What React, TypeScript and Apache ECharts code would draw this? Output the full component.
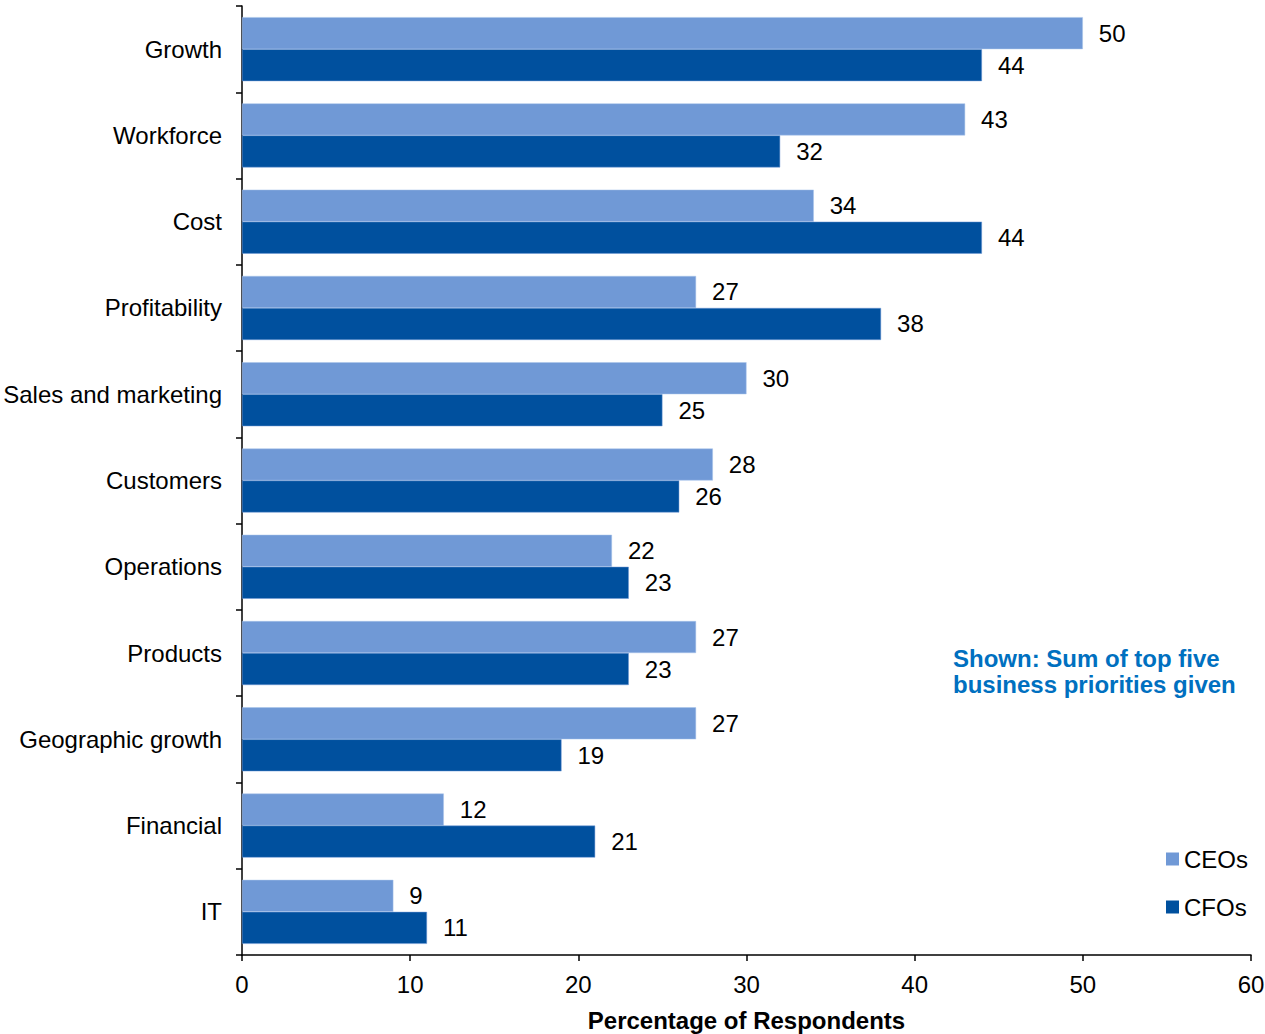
import React, { useEffect, useRef } from "react";
import * as echarts from "echarts";

const categories = [
  "Growth",
  "Workforce",
  "Cost",
  "Profitability",
  "Sales and marketing",
  "Customers",
  "Operations",
  "Products",
  "Geographic growth",
  "Financial",
  "IT",
];
const ceoValues = [50, 43, 34, 27, 30, 28, 22, 27, 27, 12, 9];
const cfoValues = [44, 32, 44, 38, 25, 26, 23, 23, 19, 21, 11];
const seriesNames = ["CEOs", "CFOs"];
const xTicks = { min: 0, max: 60, interval: 10 };
const axisTitle = "Percentage of Respondents";
const noteLines = ["Shown: Sum of top five", "business priorities given"];

const FONT = "Liberation Sans, Arial, sans-serif";
const FS = 24;

export default function App() {
  const ref = useRef<HTMLDivElement>(null);
  useEffect(() => {
    if (!ref.current) return;
    const chart = echarts.init(ref.current, null, { renderer: "svg" });
    const labelStyle = {
      show: true,
      position: "right",
      distance: 16,
      color: "#000",
      fontSize: FS,
      fontFamily: FONT,
    };
    chart.setOption({
      animation: false,
      textStyle: { fontFamily: FONT },
      grid: {
        left: 242,
        right: 14,
        top: 6,
        bottom: 79,
        containLabel: false,
        outerBoundsMode: "none",
      },
      legend: {
        orient: "vertical",
        right: 12,
        top: 842,
        itemWidth: 13,
        itemHeight: 13,
        itemGap: 24,
        icon: "rect",
        itemStyle: { borderWidth: 0 },
        textStyle: { fontSize: 24, color: "#000", fontFamily: FONT },
        data: seriesNames,
      },
      xAxis: {
        type: "value",
        min: xTicks.min,
        max: xTicks.max,
        interval: xTicks.interval,
        splitLine: { show: false },
        axisLine: { show: true, lineStyle: { color: "#000", width: 1.5 } },
        axisTick: { show: true, length: 6, lineStyle: { color: "#000", width: 1.5 } },
        axisLabel: { fontSize: FS, color: "#000", margin: 17, fontFamily: FONT },
        name: axisTitle,
        nameLocation: "middle",
        nameGap: 53,
        nameTextStyle: { fontSize: 24, fontWeight: "bold", color: "#000", fontFamily: FONT },
      },
      yAxis: {
        type: "category",
        data: categories,
        inverse: true,
        axisLine: { show: true, lineStyle: { color: "#000", width: 1.5 } },
        axisTick: { show: true, length: 6, alignWithLabel: false, lineStyle: { color: "#000", width: 1.5 } },
        axisLabel: { fontSize: FS, color: "#000", margin: 20, fontFamily: FONT },
      },
      series: [
        {
          name: seriesNames[0],
          type: "bar",
          data: ceoValues,
          barWidth: 32,
          barGap: "0%",
          itemStyle: { color: "#7099D6", borderColor: "#A9C4EA", borderWidth: 0.5 },
          label: labelStyle,
        },
        {
          name: seriesNames[1],
          type: "bar",
          data: cfoValues,
          barWidth: 32,
          barGap: "0%",
          itemStyle: { color: "#00509E", borderColor: "#7099D6", borderWidth: 0.5 },
          label: labelStyle,
        },
      ],
      graphic: [
        {
          type: "text",
          left: 953,
          top: 645,
          style: {
            text: noteLines.join("\n"),
            fill: "#0070C0",
            font: `bold 24px ${FONT}`,
            lineHeight: 26,
          },
        },
      ],
    });
    return () => chart.dispose();
  }, []);
  return <div ref={ref} style={{ width: 1265, height: 1034, position: "absolute", left: 0, top: 0 }} />;
}
